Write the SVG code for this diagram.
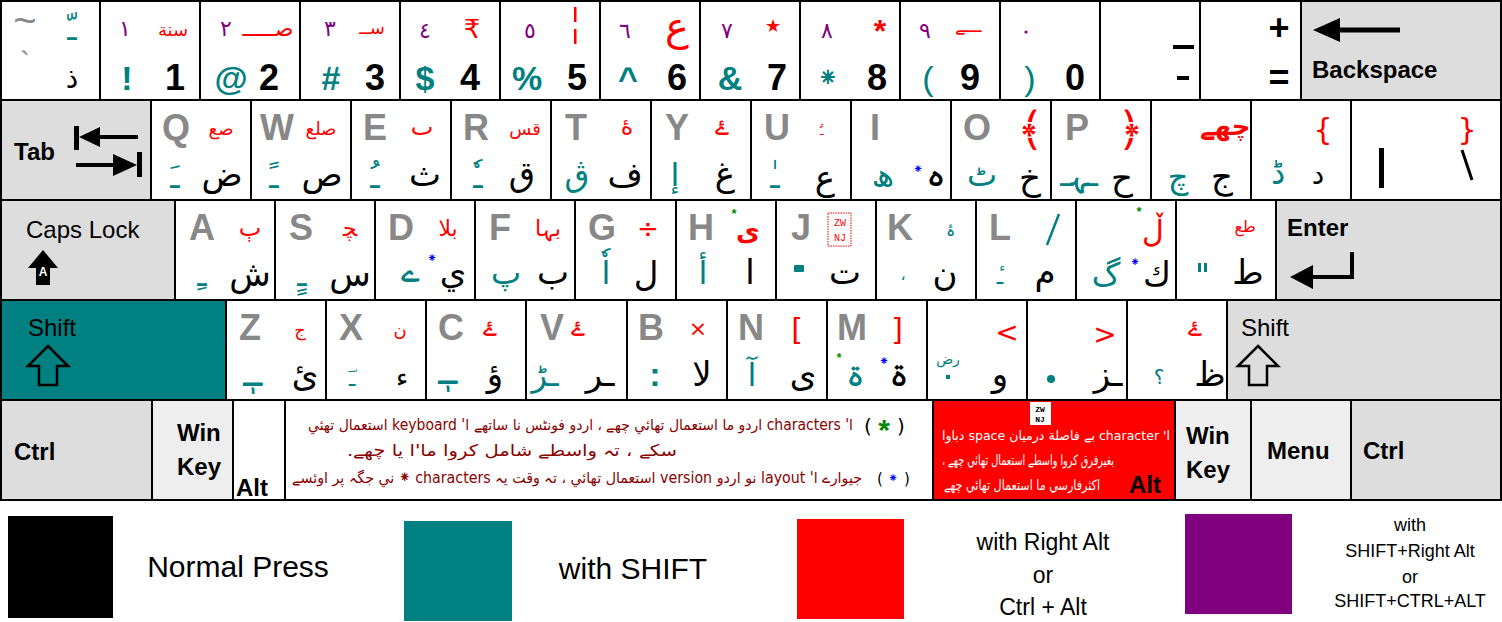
<svg xmlns="http://www.w3.org/2000/svg" width="1502" height="622" viewBox="0 0 1502 622">
<style>
.k{fill:#fff;stroke:#000;stroke-width:2}
.g{fill:#ddd;stroke:#000;stroke-width:2}
.l{fill:#eee;stroke:#000;stroke-width:2}
text{text-anchor:middle}
.L{font-family:"Liberation Sans",Arial,sans-serif;font-weight:bold;font-size:36px;fill:#888}
.N{font-family:"Liberation Sans",Arial,sans-serif;font-weight:bold;font-size:36px;fill:#000}
.T{font-family:"Liberation Sans",Arial,sans-serif;font-weight:bold;font-size:34px;fill:#008080}
.fk{font-family:"Liberation Sans",Arial,sans-serif;font-weight:bold;font-size:24px;fill:#000;text-anchor:start}
.fr{font-family:"Liberation Sans",Arial,sans-serif;font-size:24px;fill:#000;text-anchor:start}
.a{font-family:"DejaVu Sans",sans-serif;font-size:34px;fill:#000}
.at{font-family:"DejaVu Sans",sans-serif;font-size:32px;fill:#008080}
.ar{font-family:"DejaVu Sans",sans-serif;font-size:18px;fill:#f00}
.ap{font-family:"DejaVu Sans",sans-serif;font-size:22px;fill:#800080}
.ab{font-family:"DejaVu Sans",sans-serif;font-size:12px;fill:#00f}
.sp{font-family:"DejaVu Sans",sans-serif;font-size:15px;fill:#8b0000;direction:rtl;text-anchor:start}
.wr{font-family:"DejaVu Sans",sans-serif;font-size:13px;fill:#fff;direction:rtl;text-anchor:start}
.lg{font-family:"Liberation Sans",Arial,sans-serif;fill:#000}
</style>
<rect x="0" y="0" width="1502" height="622" fill="#fff"/>

<!-- Row 1 -->
<g id="key-tilde"><rect class="k" x="1" y="1" width="99" height="99"/>
<text class="L" x="25" y="34" style="font-size:40px;font-weight:normal">~</text>
<text class="L" x="25" y="72" style="font-size:30px;font-weight:normal">`</text>
<text class="at" x="72" y="40">ـّ</text>
<text class="a" x="72" y="88" style="font-size:28px">ذ</text></g>

<g id="key-1"><rect class="k" x="100" y="1" width="100" height="99"/>
<text class="ap" x="125" y="36">١</text><text class="ar" x="173" y="36">سنة</text>
<text class="T" x="127" y="90">!</text><text class="N" x="175" y="90">1</text></g>

<g id="key-2"><rect class="k" x="200" y="1" width="100" height="99"/>
<text class="ap" x="226" y="36">٢</text><text class="ar" x="268" y="36" style="font-size:22px">صـــــ</text>
<text class="T" x="231" y="90">@</text><text class="N" x="269" y="90">2</text></g>

<g id="key-3"><rect class="k" x="300" y="1" width="100" height="99"/>
<text class="ap" x="330" y="36">٣</text><text class="ar" x="372" y="34">ســ</text>
<text class="T" x="331" y="90">#</text><text class="N" x="375" y="90">3</text></g>

<g id="key-4"><rect class="k" x="400" y="1" width="100" height="99"/>
<text class="ap" x="425" y="38">٤</text><text class="ar" x="472" y="38" style="font-size:26px">₹</text>
<text class="T" x="425" y="90">$</text><text class="N" x="470" y="90">4</text></g>

<g id="key-5"><rect class="k" x="500" y="1" width="100" height="99"/>
<text class="ap" x="530" y="38">٥</text>
<rect x="574" y="7" width="2.5" height="15" fill="#f00"/><rect x="574" y="29" width="2.5" height="15" fill="#f00"/>
<text class="T" x="527" y="90">%</text><text class="N" x="577" y="90">5</text></g>

<g id="key-6"><rect class="k" x="600" y="1" width="100" height="99"/>
<text class="ap" x="625" y="38">٦</text><text class="ar" x="677" y="40" style="font-size:40px">ع</text>
<text class="T" x="628" y="90">^</text><text class="N" x="677" y="90">6</text></g>

<g id="key-7"><rect class="k" x="700" y="1" width="100" height="99"/>
<text class="ap" x="727" y="38">٧</text><text class="ar" x="773" y="32">★</text>
<text class="T" x="730" y="90">&amp;</text><text class="N" x="777" y="90">7</text></g>

<g id="key-8"><rect class="k" x="800" y="1" width="100" height="99"/>
<text class="ap" x="827" y="38">٨</text><text class="ar" x="880" y="42" style="font-size:32px;font-family:'Liberation Sans',sans-serif;font-weight:bold">*</text>
<text class="at" x="828" y="87" style="font-size:26px">⁕</text><text class="N" x="877" y="90">8</text></g>

<g id="key-9"><rect class="k" x="900" y="1" width="100" height="99"/>
<text class="ap" x="925" y="38">٩</text><text class="ar" x="968" y="32">ـــے</text>
<text class="T" x="928" y="90" style="font-weight:normal">(</text><text class="N" x="970" y="90">9</text></g>

<g id="key-0"><rect class="k" x="1000" y="1" width="100" height="99"/>
<circle cx="1026" cy="32" r="1.6" fill="#800080"/>
<text class="T" x="1030" y="90" style="font-weight:normal">)</text><text class="N" x="1075" y="90">0</text></g>

<g id="key-minus"><rect class="k" x="1100" y="1" width="100" height="99"/>
<rect x="1173" y="45" width="21" height="4" fill="#000"/>
<rect x="1177" y="76" width="12" height="4" fill="#000"/></g>

<g id="key-equal"><rect class="k" x="1200" y="1" width="101" height="99"/>
<text class="N" x="1279" y="40">+</text><text class="N" x="1279" y="90">=</text></g>

<g id="key-backspace"><rect class="g" x="1301" y="1" width="200" height="99"/>
<line x1="1335" y1="30" x2="1400" y2="30" stroke="#000" stroke-width="5"/>
<polygon points="1313,30 1340,18 1340,42" fill="#000"/>
<text class="fk" x="1312" y="78">Backspace</text></g>

<!-- Row 2 -->
<g id="key-tab"><rect class="g" x="1" y="100" width="150" height="100"/>
<text class="fk" x="14" y="160">Tab</text>
<rect x="74" y="126" width="5" height="24" fill="#000"/>
<polygon points="79,137 100,127 100,147" fill="#000"/>
<line x1="99" y1="137" x2="138" y2="137" stroke="#000" stroke-width="4"/>
<rect x="137" y="152" width="5" height="25" fill="#000"/>
<polygon points="137,165 113,154 113,176" fill="#000"/>
<line x1="76" y1="165" x2="114" y2="165" stroke="#000" stroke-width="4"/></g>

<g id="key-q"><rect class="k" x="151" y="100" width="100" height="100"/>
<text class="L" x="176" y="140">Q</text><text class="ar" x="221" y="135">صع</text>
<text class="at" x="175" y="188">ـَ</text><text class="a" x="222" y="186">ض</text></g>

<g id="key-w"><rect class="k" x="251" y="100" width="100" height="100"/>
<text class="L" x="277" y="140">W</text><text class="ar" x="321" y="135">صلع</text>
<text class="at" x="274" y="188">ـً</text><text class="a" x="322" y="186">ص</text></g>

<g id="key-e"><rect class="k" x="351" y="100" width="100" height="100"/>
<text class="L" x="375" y="140">E</text><text class="ar" x="422" y="135" style="font-size:24px">ٮ</text>
<text class="at" x="375" y="188">ـُ</text><text class="a" x="425" y="186">ث</text></g>

<g id="key-r"><rect class="k" x="451" y="100" width="100" height="100"/>
<text class="L" x="476" y="140">R</text><text class="ar" x="525" y="135">قس</text>
<text class="at" x="478" y="188">ـٗ</text><text class="a" x="522" y="186">ق</text></g>

<g id="key-t"><rect class="k" x="551" y="100" width="100" height="100"/>
<text class="L" x="576" y="140">T</text><text class="ar" x="627" y="135" style="font-size:24px">ۀ</text>
<text class="at" x="577" y="186">ڨ</text><text class="a" x="625" y="186">ف</text></g>

<g id="key-y"><rect class="k" x="651" y="100" width="100" height="100"/>
<text class="L" x="677" y="140">Y</text><text class="ar" x="722" y="135" style="font-size:24px">ۓ</text>
<text class="at" x="675" y="186">إ</text><text class="a" x="725" y="186">غ</text></g>

<g id="key-u"><rect class="k" x="751" y="100" width="100" height="100"/>
<text class="L" x="777" y="140">U</text><text class="ar" x="822" y="135">ـؑ</text>
<text class="at" x="775" y="188">ـٰ</text><text class="a" x="825" y="190">ع</text></g>

<g id="key-i"><rect class="k" x="851" y="100" width="100" height="100"/>
<text class="L" x="875" y="140">I</text>
<text class="at" x="883" y="186">ھ</text><text class="ab" x="918" y="173">⁕</text><text class="a" x="936" y="186">ہ</text></g>

<g id="key-o"><rect class="k" x="951" y="100" width="100" height="100"/>
<text class="L" x="977" y="140">O</text><text class="ar" x="1030" y="145" style="font-size:46px">﴾</text>
<text class="at" x="982" y="186">ٹ</text><text class="a" x="1030" y="190">خ</text></g>

<g id="key-p"><rect class="k" x="1051" y="100" width="100" height="100"/>
<text class="L" x="1077" y="140">P</text><text class="ar" x="1130" y="145" style="font-size:46px">﴿</text>
<text class="at" x="1079" y="186">ـہـ</text><text class="a" x="1122" y="190">ح</text></g>

<g id="key-lbracket"><rect class="k" x="1151" y="100" width="100" height="100"/>
<text class="ar" x="1225" y="135" style="font-size:26px;font-weight:bold">چھے</text>
<text class="at" x="1178" y="188">چ</text><text class="a" x="1222" y="188">ج</text></g>

<g id="key-rbracket"><rect class="k" x="1251" y="100" width="100" height="100"/>
<text class="ar" x="1323" y="140" style="font-size:30px">{</text>
<text class="at" x="1278" y="184">ڈ</text><text class="a" x="1318" y="184" style="font-size:28px">د</text></g>

<g id="key-backslash"><rect class="k" x="1351" y="100" width="150" height="100"/>
<text class="ar" x="1467" y="140" style="font-size:30px">}</text>
<rect x="1379" y="148" width="5" height="40" fill="#000"/>
<line x1="1462" y1="150" x2="1472" y2="180" stroke="#000" stroke-width="3"/></g>

<!-- Row 3 -->
<g id="key-caps"><rect class="g" x="1" y="200" width="174" height="100"/>
<text class="fr" x="26" y="238">Caps Lock</text>
<polygon points="43,250 58,268 50,268 50,285 36,285 36,268 28,268" fill="#000"/>
<text x="43" y="276" style="font-family:'Liberation Sans',sans-serif;font-weight:bold;font-size:12px;fill:#fff">A</text></g>

<g id="key-a"><rect class="k" x="175" y="200" width="100" height="100"/>
<text class="L" x="202" y="240">A</text><text class="ar" x="250" y="236" style="font-size:24px">ٻ</text>
<text class="at" x="202" y="286">ـِ</text><text class="a" x="250" y="286">ش</text></g>

<g id="key-s"><rect class="k" x="275" y="200" width="100" height="100"/>
<text class="L" x="301" y="240">S</text><text class="ar" x="350" y="236" style="font-size:22px">ﭽ</text>
<text class="at" x="302" y="286">ـٍ</text><text class="a" x="350" y="286">س</text></g>

<g id="key-d"><rect class="k" x="375" y="200" width="100" height="100"/>
<text class="L" x="401" y="240">D</text><text class="ar" x="448" y="236" style="font-size:22px">بلا</text>
<text class="at" x="410" y="282">ے</text><text class="ab" x="432" y="262">⁕</text><text class="a" x="453" y="284">ي</text></g>

<g id="key-f"><rect class="k" x="475" y="200" width="100" height="100"/>
<text class="L" x="500" y="240">F</text><text class="ar" x="548" y="236" style="font-size:22px">بہا</text>
<text class="at" x="506" y="284">پ</text><text class="a" x="553" y="284">ب</text></g>

<g id="key-g"><rect class="k" x="575" y="200" width="101" height="100"/>
<text class="L" x="602" y="240">G</text><text class="ar" x="648" y="238" style="font-size:26px">÷</text>
<text class="at" x="606" y="284">اٗ</text><text class="a" x="646" y="286">ل</text></g>

<g id="key-h"><rect class="k" x="676" y="200" width="100" height="100"/>
<text class="L" x="701" y="240">H</text><text x="734" y="218" style="font-family:'Liberation Sans',sans-serif;font-weight:bold;font-size:13px;fill:#080">*</text>
<text class="ar" x="748" y="240" style="font-size:26px;font-weight:bold">ى</text>
<text class="at" x="703" y="284">أ</text><text class="a" x="750" y="284">ا</text></g>

<g id="key-j"><rect class="k" x="776" y="200" width="100" height="100"/>
<text class="L" x="801" y="240">J</text>
<rect x="828" y="213" width="23" height="33" fill="none" stroke="#f00" stroke-width="1" stroke-dasharray="1.5,1"/>
<text x="840" y="226" style="font-family:'Liberation Mono',monospace;font-size:10px;fill:#f00">ZW</text>
<text x="840" y="241" style="font-family:'Liberation Mono',monospace;font-size:10px;fill:#f00">NJ</text>
<rect x="794" y="265" width="10" height="7" rx="1" fill="#008080"/><text class="a" x="845" y="284">ت</text></g>

<g id="key-k"><rect class="k" x="876" y="200" width="100" height="100"/>
<text class="L" x="900" y="240">K</text><text class="at" x="950" y="236" style="font-size:16px">ۂ</text>
<text class="at" x="903" y="280" style="font-size:16px">،</text><text class="a" x="945" y="286">ن</text></g>

<g id="key-l"><rect class="k" x="976" y="200" width="100" height="100"/>
<text class="L" x="1000" y="240">L</text>
<line x1="1059" y1="214" x2="1047" y2="245" stroke="#008080" stroke-width="2.5"/>
<text class="at" x="1000" y="284" style="font-size:22px">ٔـ</text><text class="a" x="1045" y="284">م</text></g>

<g id="key-semicolon"><rect class="k" x="1076" y="200" width="100" height="100"/>
<text x="1139" y="216" style="font-family:'Liberation Sans',sans-serif;font-weight:bold;font-size:13px;fill:#080">*</text>
<text class="ar" x="1153" y="242" style="font-size:30px">ڵ</text>
<text class="at" x="1106" y="286">گ</text><text class="ab" x="1135" y="266">⁕</text><text class="a" x="1157" y="286">ك</text></g>

<g id="key-quote"><rect class="k" x="1176" y="200" width="100" height="100"/>
<text class="ar" x="1245" y="232" style="font-size:16px">طع</text>
<rect x="1198" y="263" width="3" height="9" fill="#008080"/><rect x="1204" y="263" width="3" height="9" fill="#008080"/>
<text class="a" x="1248" y="284">ط</text></g>

<g id="key-enter"><rect class="g" x="1276" y="200" width="225" height="100"/>
<text class="fk" x="1287" y="236">Enter</text>
<line x1="1352" y1="252" x2="1352" y2="279" stroke="#000" stroke-width="4"/>
<line x1="1310" y1="277" x2="1354" y2="277" stroke="#000" stroke-width="4"/>
<polygon points="1290,277 1313,265 1313,289" fill="#000"/></g>

<!-- Row 4 -->
<g id="key-lshift"><rect x="1" y="300" width="225" height="100" fill="#008080" stroke="#000" stroke-width="2"/>
<text class="fr" x="28" y="336">Shift</text>
<polygon points="48,346 68,366 57,366 57,385 39,385 39,366 28,366" fill="none" stroke="#000" stroke-width="2.5"/></g>

<g id="key-z"><rect class="k" x="226" y="300" width="100" height="100"/>
<text class="L" x="250" y="340">Z</text><text class="ar" x="300" y="336">ج</text>
<text class="at" x="252" y="386">ـٖ</text><text class="a" x="305" y="386">ئ</text></g>

<g id="key-x"><rect class="k" x="326" y="300" width="100" height="100"/>
<text class="L" x="351" y="340">X</text><text class="ar" x="400" y="336">ن</text>
<text class="at" x="352" y="386">ـؔ</text><text class="a" x="402" y="386" style="font-size:26px">ء</text></g>

<g id="key-c"><rect class="k" x="426" y="300" width="100" height="100"/>
<text class="L" x="451" y="340">C</text><text class="ar" x="490" y="336" style="font-size:24px">ۓ</text>
<text class="at" x="447" y="384">ـٖ</text><text class="a" x="495" y="386">ؤ</text></g>

<g id="key-v"><rect class="k" x="526" y="300" width="101" height="100"/>
<text class="L" x="552" y="340">V</text><text class="ar" x="578" y="336" style="font-size:24px">ۓ</text>
<text class="at" x="545" y="386">ـڑ</text><text class="a" x="600" y="386">ـر</text></g>

<g id="key-b"><rect class="k" x="627" y="300" width="100" height="100"/>
<text class="L" x="651" y="340">B</text><text class="ar" x="698" y="336" style="font-size:22px">×</text>
<text class="T" x="655" y="386">:</text><text class="a" x="702" y="386">لا</text></g>

<g id="key-n"><rect class="k" x="727" y="300" width="100" height="100"/>
<text class="L" x="751" y="340">N</text><text class="ar" x="797" y="340" style="font-size:30px">[</text>
<text class="at" x="752" y="386">آ</text><text class="a" x="803" y="386">ی</text></g>

<g id="key-m"><rect class="k" x="827" y="300" width="100" height="100"/>
<text class="L" x="852" y="340">M</text><text class="ar" x="897" y="340" style="font-size:30px">]</text>
<text x="839" y="362" style="font-family:'Liberation Sans',sans-serif;font-weight:bold;font-size:12px;fill:#080">*</text>
<text class="at" x="855" y="386">ۃ</text><text class="ab" x="884" y="365">⁕</text><text class="a" x="899" y="386">ۃ</text></g>

<g id="key-comma"><rect class="k" x="927" y="300" width="100" height="100"/>
<text class="ar" x="1007" y="342" style="font-size:28px">&lt;</text>
<text class="at" x="948" y="364" style="font-size:14px">رض</text>
<rect x="946" y="375" width="4" height="4" fill="#008080"/><text class="a" x="1000" y="386">و</text></g>

<g id="key-period"><rect class="k" x="1027" y="300" width="100" height="100"/>
<text class="ar" x="1105" y="344" style="font-size:28px">&gt;</text>
<circle cx="1051" cy="379" r="4" fill="#008080"/><text class="a" x="1108" y="386">ـز</text></g>

<g id="key-slash"><rect class="k" x="1127" y="300" width="100" height="100"/>
<text class="ar" x="1195" y="336" style="font-size:24px">ۓ</text>
<text class="at" x="1159" y="384" style="font-size:20px">؟</text><text class="a" x="1210" y="386">ظ</text></g>

<g id="key-rshift"><rect class="g" x="1227" y="300" width="274" height="100"/>
<text class="fr" x="1241" y="336">Shift</text>
<polygon points="1258,346 1278,366 1267,366 1267,385 1249,385 1249,366 1238,366" fill="none" stroke="#000" stroke-width="2.5"/></g>

<!-- Row 5 -->
<g id="key-lctrl"><rect class="g" x="1" y="400" width="151" height="100"/>
<text class="fk" x="14" y="460">Ctrl</text></g>
<g id="key-lwin"><rect class="l" x="152" y="400" width="81" height="100"/>
<text class="fk" x="177" y="441">Win</text><text class="fk" x="177" y="475">Key</text></g>
<g id="key-lalt"><rect class="k" x="233" y="400" width="52" height="100"/>
<text class="fk" x="236" y="496">Alt</text></g>

<g id="key-space"><rect class="k" x="285" y="400" width="648" height="100"/>
<text x="868" y="433" style="font-family:'DejaVu Sans',sans-serif;font-size:20px;fill:#000">(</text>
<text x="884" y="440" style="font-family:'Liberation Sans',sans-serif;font-weight:bold;font-size:30px;fill:#080">*</text>
<text x="901" y="433" style="font-family:'DejaVu Sans',sans-serif;font-size:20px;fill:#000">)</text>
<text class="sp" x="853" y="430" textLength="545" lengthAdjust="spacingAndGlyphs">ا' characters اردو ما استعمال تھائي چھے ، اردو فونٹس نا ساتھے ا' keyboard استعمال تھئي</text>
<text class="sp" x="677" y="456" style="font-size:16px" textLength="330" lengthAdjust="spacingAndGlyphs">سکے ، تہ واسطے شامل کروا ما'ا یا چھے.</text>
<text x="880" y="484" style="font-family:'DejaVu Sans',sans-serif;font-size:15px;fill:#000">(</text>
<text class="ab" x="893" y="482">⁕</text>
<text x="907" y="484" style="font-family:'DejaVu Sans',sans-serif;font-size:15px;fill:#000">)</text>
<text class="sp" x="862" y="483" textLength="570" lengthAdjust="spacingAndGlyphs">جیوارے ا' layout نو اردو version استعمال تھائي ، تہ وقت یہ characters ⁕ ني جگہ پر اوئسے</text></g>

<g id="key-ralt"><rect x="933" y="400" width="242" height="100" fill="#f00" stroke="#000" stroke-width="2"/>
<rect x="1030" y="402" width="21" height="23" fill="#fff"/>
<text x="1040" y="412" style="font-family:'Liberation Mono',monospace;font-weight:bold;font-size:8px;fill:#000">ZW</text>
<text x="1040" y="422" style="font-family:'Liberation Mono',monospace;font-weight:bold;font-size:8px;fill:#000">NJ</text>
<text class="wr" x="1170" y="440" textLength="228" lengthAdjust="spacingAndGlyphs">ا' character بے فاصلة درمیان space دباوا</text>
<text class="wr" x="1114" y="465" style="font-size:14px" textLength="172" lengthAdjust="spacingAndGlyphs">بغیرفرق کروا واسطے استعمال تھائي چھے ،</text>
<text class="wr" x="1100" y="490" style="font-size:14px" textLength="156" lengthAdjust="spacingAndGlyphs">اکثرفارسي ما استعمال تھائي چھے</text>
<text class="fk" x="1129" y="493">Alt</text></g>

<g id="key-rwin"><rect class="l" x="1175" y="400" width="76" height="100"/>
<text class="fk" x="1186" y="444">Win</text><text class="fk" x="1186" y="478">Key</text></g>
<g id="key-menu"><rect class="l" x="1251" y="400" width="100" height="100"/>
<text class="fk" x="1267" y="459">Menu</text></g>
<g id="key-rctrl"><rect class="g" x="1351" y="400" width="150" height="100"/>
<text class="fk" x="1363" y="459">Ctrl</text></g>

<!-- Legend -->
<g id="legend-normal"><rect x="8" y="516" width="105" height="102" fill="#000"/>
<text class="lg" x="238" y="577" style="font-size:30px">Normal Press</text></g>
<g id="legend-shift"><rect x="404" y="521" width="108" height="100" fill="#008080"/>
<text class="lg" x="633" y="579" style="font-size:30px">with SHIFT</text></g>
<g id="legend-ralt"><rect x="797" y="519" width="107" height="100" fill="#f00"/>
<text class="lg" x="1043" y="550" style="font-size:23px">with Right Alt</text>
<text class="lg" x="1043" y="583" style="font-size:23px">or</text>
<text class="lg" x="1043" y="615" style="font-size:23px">Ctrl + Alt</text></g>
<g id="legend-shiftralt"><rect x="1185" y="514" width="107" height="100" fill="#800080"/>
<text class="lg" x="1410" y="531" style="font-size:18px">with</text>
<text class="lg" x="1410" y="557" style="font-size:18px">SHIFT+Right Alt</text>
<text class="lg" x="1410" y="583" style="font-size:18px">or</text>
<text class="lg" x="1410" y="607" style="font-size:18px">SHIFT+CTRL+ALT</text></g>
</svg>
